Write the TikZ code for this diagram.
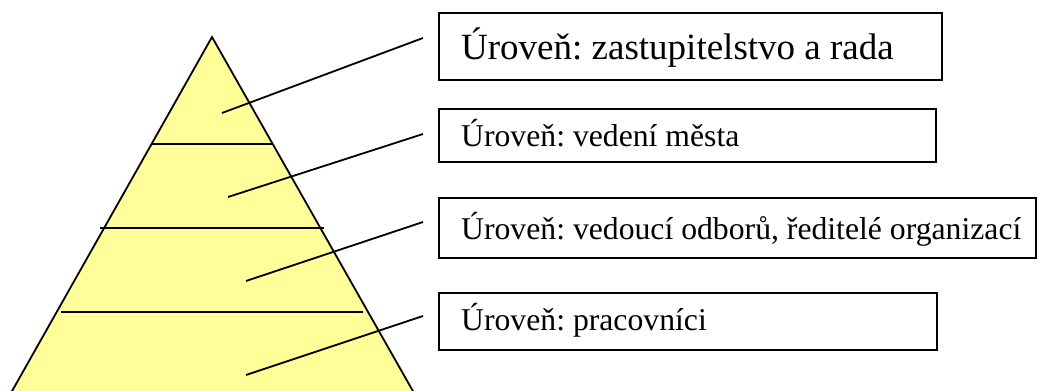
\documentclass[tikz,border=0pt]{standalone}
\usepackage{fontspec}
\setmainfont{Liberation Serif}
\frenchspacing
\definecolor{pyr}{HTML}{FFFF99}
\tikzset{
  edge/.style={line width=1.8pt, draw=black},
  lvlbox/.style={draw=black, line width=1.8pt, anchor=north west, inner sep=0pt},
  lvltext/.style={anchor=base west, inner sep=0pt},
  bigtxt/.style={font=\fontsize{37}{40}\selectfont},
  smalltxt/.style={font=\fontsize{31.7}{36}\selectfont},
}
\begin{document}
\begin{tikzpicture}[x=1pt,y=-1pt]
\path[use as bounding box] (0,0) rectangle (1037,391);
\begin{scope}
\clip (0,0) rectangle (1037,391);
\coordinate (apex) at (212,37);
\coordinate (bl) at (7,400);
\coordinate (br) at (418,400);
\filldraw[fill=pyr, edge, line join=miter] (bl) -- (apex) -- (br);
\end{scope}
% level dividers
\coordinate (d1l) at (152,144); \coordinate (d1r) at (272,144);
\coordinate (d2l) at (100,228); \coordinate (d2r) at (324,228);
\coordinate (d3l) at (61,312);  \coordinate (d3r) at (363,312);
\draw[edge] (d1l) -- (d1r);
\draw[edge] (d2l) -- (d2r);
\draw[edge] (d3l) -- (d3r);
% boxes
\node[lvlbox, minimum width=503pt, minimum height=67pt] (b1) at (438,12) {};
\node[lvlbox, minimum width=497pt, minimum height=53pt] (b2) at (438,108) {};
\node[lvlbox, minimum width=597pt, minimum height=60pt] (b3) at (438,197) {};
\node[lvlbox, minimum width=498pt, minimum height=57pt] (b4) at (438,292) {};
% texts
\node[lvltext, bigtxt]   (t1) at (461,59)  {Úroveň: zastupitelstvo a rada};
\node[lvltext, smalltxt] (t2) at (461,146) {Úroveň: vedení města};
\node[lvltext, smalltxt] (t3) at (461,239) {Úroveň: vedoucí odborů, ředitelé organizací};
\node[lvltext, smalltxt] (t4) at (461,330) {Úroveň: pracovníci};
% connectors
\coordinate (p1) at (222,113); \coordinate (q1) at (423,38);
\coordinate (p2) at (228,197); \coordinate (q2) at (423,134);
\coordinate (p3) at (246,281); \coordinate (q3) at (423,222);
\coordinate (p4) at (246,375); \coordinate (q4) at (423,316);
\draw[edge] (p1) -- (q1);
\draw[edge] (p2) -- (q2);
\draw[edge] (p3) -- (q3);
\draw[edge] (p4) -- (q4);
\end{tikzpicture}
\end{document}
